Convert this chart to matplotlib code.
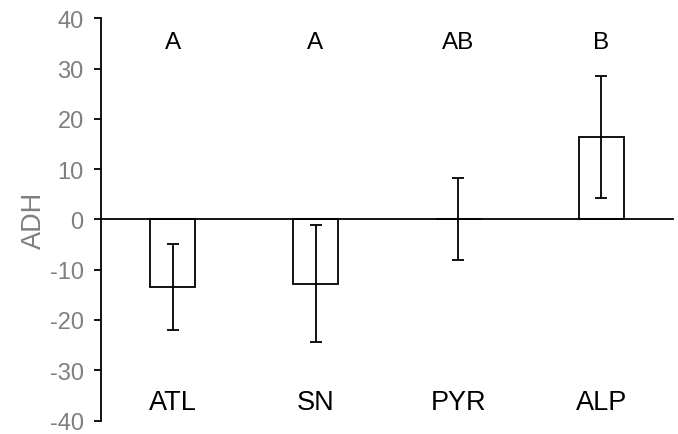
import matplotlib
matplotlib.use('Agg')
import matplotlib.pyplot as plt

plt.rcParams['font.family'] = ['Liberation Sans', 'DejaVu Sans']
plt.rcParams['axes.unicode_minus'] = False

# Data
regions = ['ATL', 'SN', 'PYR', 'ALP']
adh_mean = [-13.4, -12.8, 0.1, 16.4]
adh_err = [8.6, 11.6, 8.2, 12.1]
groups = ['A', 'A', 'AB', 'B']

fig = plt.figure(figsize=(6.78, 4.35), dpi=100)
ax = fig.add_axes([0.149, 0.031, 0.8436, 0.9246])

x = list(range(len(regions)))
ax.bar(x, adh_mean, width=0.315, color='white', edgecolor='black', linewidth=1.3, zorder=2)
ax.errorbar(x, adh_mean, yerr=adh_err, fmt='none', ecolor='black',
            elinewidth=1.3, capsize=4.5, capthick=1.3, zorder=3)

for xi, g in zip(x, groups):
    ax.text(xi, 35.3, g, ha='center', va='center', fontsize=17.5, color='black')
for xi, r in zip(x, regions):
    ax.text(xi, -36.3, r, ha='center', va='center', fontsize=19.5, color='black')

ax.set_xlim(-0.5, len(regions) - 0.5)
ax.set_ylim(-40, 40)
ax.set_yticks(range(-40, 41, 10))
ax.set_xticks([])
ax.tick_params(axis='y', direction='out', length=5, width=1.3, labelsize=17,
               labelcolor='#7f7f7f', color='black', pad=7.5)

ax.spines['top'].set_visible(False)
ax.spines['right'].set_visible(False)
ax.spines['bottom'].set_position(('data', 0))
ax.spines['bottom'].set_linewidth(1.3)
ax.spines['left'].set_linewidth(1.3)

ax.set_ylabel('ADH', fontsize=19.5, color='#7f7f7f', labelpad=2)

fig.savefig('out.png', dpi=100)
